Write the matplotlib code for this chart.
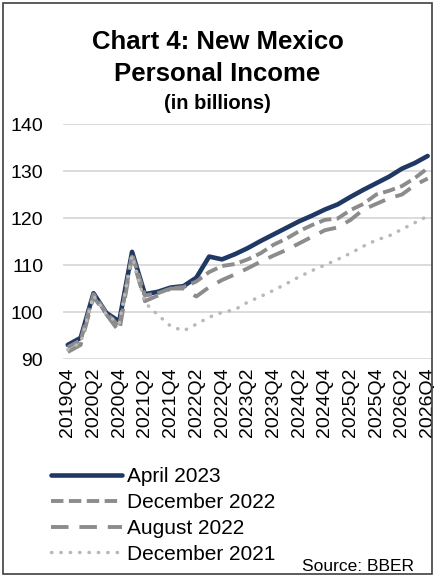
import matplotlib.pyplot as plt
from matplotlib.patches import Rectangle

plt.rcParams["font.family"] = ["Liberation Sans", "DejaVu Sans"]

quarters = []
for yr in range(2019, 2027):
    for q in range(1, 5):
        if (yr, q) >= (2019, 4):
            quarters.append(f"{yr}Q{q}")

apr_2023 = [93.0, 94.5, 104.0, 99.8, 98.0, 112.8, 103.8, 104.3, 105.2, 105.5,
            107.3, 111.8, 111.2, 112.3, 113.6, 115.1, 116.5, 117.9, 119.3, 120.5,
            121.8, 122.9, 124.5, 126.0, 127.4, 128.8, 130.5, 131.7, 133.2]
dec_2022 = [92.5, 94.0, 103.8, 99.8, 97.0, 112.3, 103.5, 104.0, 105.0, 105.3,
            106.5, 108.5, 109.8, 110.2, 111.2, 112.5, 114.3, 115.6, 117.2, 118.5,
            119.6, 119.9, 121.7, 123.0, 125.0, 125.8, 126.8, 128.5, 130.6]
aug_2022 = [91.5, 93.0, 103.2, 99.5, 95.8, 111.8, 102.3, 103.5, 105.0, 105.0,
            103.3, 105.3, 106.8, 108.0, 109.3, 110.7, 112.0, 113.2, 114.6, 116.0,
            117.4, 118.0, 119.6, 121.8, 123.0, 124.2, 125.0, 127.0, 128.4]
dec_2021 = [92.0, 93.5, 103.5, 99.5, 97.5, 112.0, 102.0, 99.4, 97.0, 96.0,
            97.4, 98.9, 99.9, 100.5, 102.1, 103.3, 104.6, 106.0, 107.5, 108.8,
            110.0, 111.2, 112.5, 114.0, 115.3, 116.2, 117.6, 119.0, 120.4]

x = list(range(len(quarters)))

fig = plt.figure(figsize=(4.35, 5.76), dpi=100)
ax = fig.add_axes([0.144, 0.3767, 0.848, 0.408])

ax.plot(x, apr_2023, color="#1f3864", lw=3.3, label="April 2023",
        solid_capstyle="round", solid_joinstyle="round")
ax.plot(x, dec_2022, color="#8c8c8c", lw=2.8, linestyle=(0, (3.2, 1.4)),
        label="December 2022")
ax.plot(x, aug_2022, color="#8c8c8c", lw=2.8, linestyle=(0, (4.5, 2.8)),
        label="August 2022")
ax.plot(x, dec_2021, color="#b8b8b8", lw=2.5, linestyle=(0, (0.1, 2.6)),
        dash_capstyle="round", label="December 2021")

ax.set_ylim(90, 140)
ax.set_yticks(range(90, 141, 10))
ax.set_xlim(-0.4, 28.3)
ax.set_xticks(x[::2])
ax.set_xticklabels(quarters[::2], rotation=90)
ax.tick_params(axis="both", length=0, labelsize=14)
ax.tick_params(axis="x", pad=6)
ax.tick_params(axis="y", pad=14)
ax.grid(axis="y", color="#d9d9d9", lw=1.3)
ax.set_axisbelow(True)
for s in ax.spines.values():
    s.set_visible(False)

fig.text(0.5, 0.927, "Chart 4: New Mexico", ha="center", va="center",
         fontsize=18.5, fontweight="bold")
fig.text(0.5, 0.872, "Personal Income", ha="center", va="center",
         fontsize=18.5, fontweight="bold")
fig.text(0.5, 0.821, "(in billions)", ha="center", va="center",
         fontsize=14.5, fontweight="bold")

fig.legend(loc="upper left", bbox_to_anchor=(0.118, 0.189),
           frameon=False, fontsize=15, handlelength=3.4, handletextpad=0.25,
           labelspacing=0.33, borderaxespad=0, borderpad=0)

fig.text(0.952, 0.016, "Source: BBER", ha="right", va="center", fontsize=12.5)

fig.patches.append(Rectangle((0.008, 0.004), 0.985, 0.991, transform=fig.transFigure,
                             fill=False, edgecolor="#404040", lw=1.2))

fig.savefig("out.png", dpi=100)
